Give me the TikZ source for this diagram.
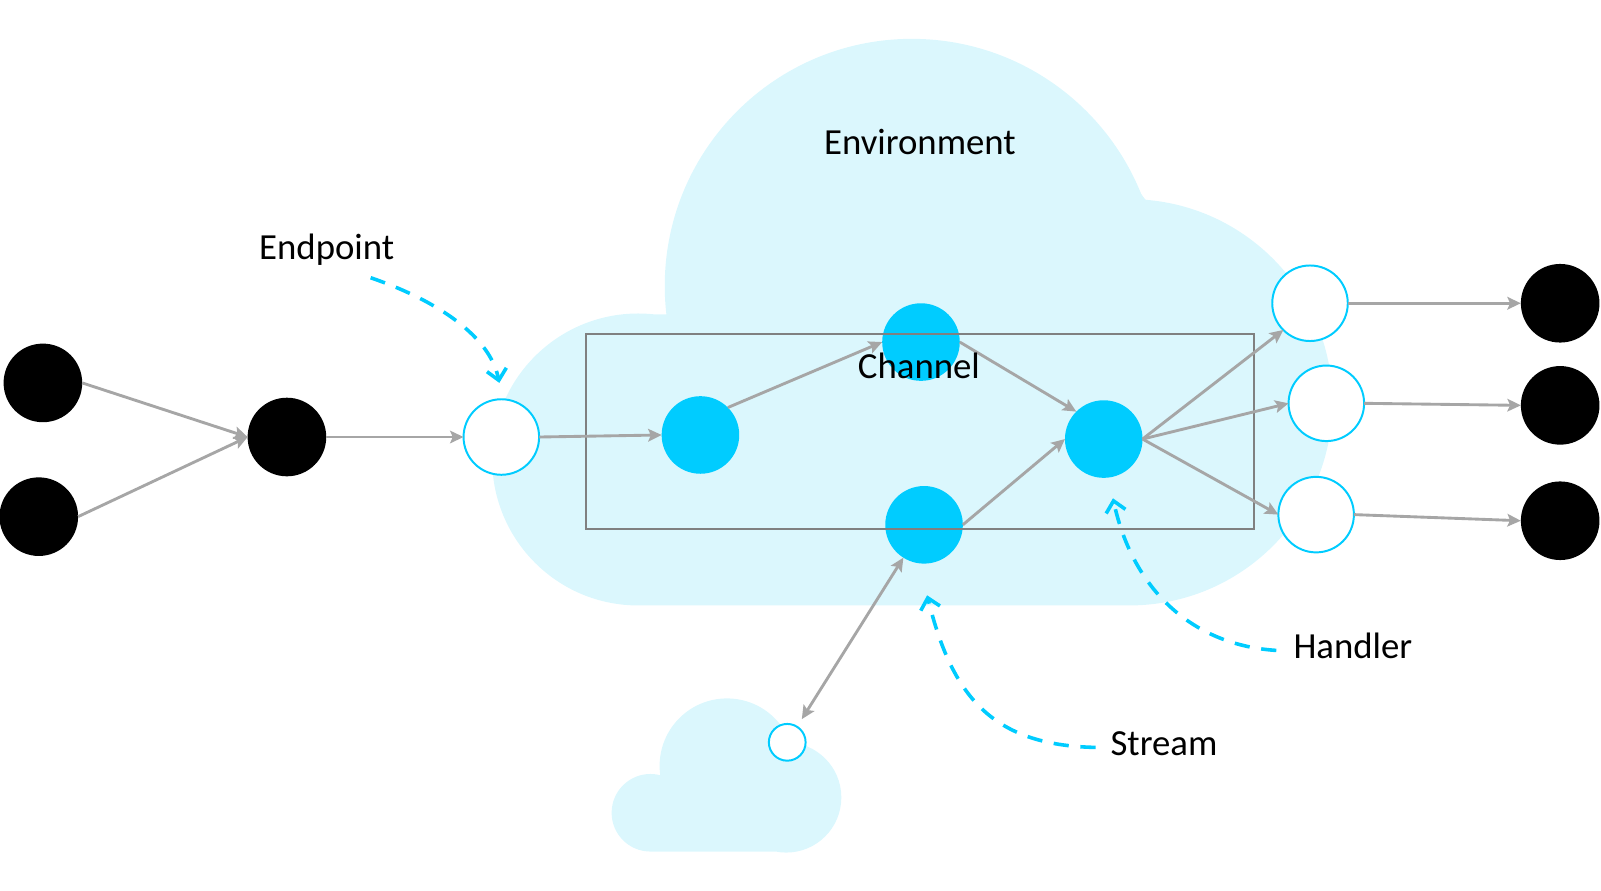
\documentclass[tikz,border=0pt]{standalone}
\usepackage{fontspec}
\setmainfont{Carlito}
\usetikzlibrary{arrows.meta}
\definecolor{cloudc}{RGB}{219,247,253}
\definecolor{cyanc}{RGB}{0,204,255}
\definecolor{linec}{RGB}{166,166,166}
\definecolor{framec}{RGB}{128,128,128}
\begin{document}
\begin{tikzpicture}[x=0.02cm,y=-0.02cm,
blob/.style={circle,fill=black,minimum size=1.54cm,inner sep=0pt,outer sep=0pt},
hub/.style={circle,fill=cyanc,minimum size=1.52cm,inner sep=0pt,outer sep=0pt},
port/.style={circle,draw=cyanc,fill=white,line width=1.1pt,minimum size=1.48cm,inner sep=0pt,outer sep=0pt},
conn/.style={draw=linec,line width=1.6pt,->,>={Stealth[length=7.5pt,width=7pt,inset=1.5pt]}},
hint/.style={draw=cyanc,line width=2pt,dash pattern=on 8.5pt off 6.5pt,-{Straight Barb[length=6pt,width=11pt]}},
tag/.style={font=\fontsize{20.5}{24}\selectfont,inner sep=0pt}]
\useasboundingbox (0,0) rectangle (1568,872);
\fill[cloudc] (893,280) circle[radius=4.84cm] (625,450) circle[radius=2.86cm]
  (1106,394) circle[radius=3.98cm] (625,308) rectangle (1106,593);
\fill[cloudc] (1112,180) .. controls (1122,200) and (1130,205) .. (1150,208) -- (1120,240) -- cycle;
\fill[cloudc] (712,750) circle[radius=1.32cm] (770,781) circle[radius=1.08cm]
  (637,796) circle[radius=0.76cm] (637,796) rectangle (770,834);
\node[tag] (env) at (901,139) {Environment};
\node[blob] (in1) at (42,375) {};
\node[blob] (in2) at (38,506) {};
\node[blob] (join) at (281,428) {};
\node[port] (ep) at (491,428) {};
\node[hub] (h1) at (686,426) {};
\node[hub] (h2) at (902,335) {};
\node[hub] (st) at (905,514) {};
\node[hub] (hd) at (1081,430) {};
\node[port] (o1) at (1283,297) {};
\node[port] (o2) at (1299,395) {};
\node[port] (o3) at (1289,504) {};
\node[blob] (s1) at (1528,297) {};
\node[blob] (s2) at (1528,397) {};
\node[blob] (s3) at (1528,510) {};
\node[port,minimum size=0.72cm] (rm) at (771,727) {};
\draw[framec,line width=1pt] (574,327) rectangle (1228,518);
\draw[conn] (in1.east) -- (join.west);
\draw[conn] (in2.east) -- (join.west);
\draw[conn] (join.east) -- (ep.west);
\draw[conn] (ep.east) -- (h1.west);
\draw[conn] (h1.north east) -- (h2.west);
\draw[conn] (h2.east) -- (hd.north west);
\draw[conn] (st.east) -- (hd.west);
\draw[conn] (hd.east) -- (o1.south west);
\draw[conn] (hd.east) -- (o2.west);
\draw[conn] (hd.east) -- (o3.west);
\draw[conn] (o1.east) -- (s1.west);
\draw[conn] (o2.east) -- (s2.west);
\draw[conn] (o3.east) -- (s3.west);
\draw[conn,<->,shorten >=5pt] (st) -- (rm);
\node[tag] (chan) at (900,358) {Channel};
\node[tag] (eplbl) at (320,245) {Endpoint};
\node[tag] (hdlbl) at (1325,633) {Handler};
\node[tag] (stlbl) at (1140,728) {Stream};
\coordinate (epA) at (363,272);
\coordinate (epB) at (489,375);
\coordinate (hdA) at (1250,637);
\coordinate (hdB) at (1090,488);
\coordinate (stA) at (1073,732);
\coordinate (stB) at (908,583);
\draw[hint] (epA) .. controls (430,295) and (480,330) .. (epB);
\draw[hint] (hdA) .. controls (1170,632) and (1110,580) .. (hdB);
\draw[hint] (stA) .. controls (970,730) and (932,680) .. (stB);
\end{tikzpicture}
\end{document}
